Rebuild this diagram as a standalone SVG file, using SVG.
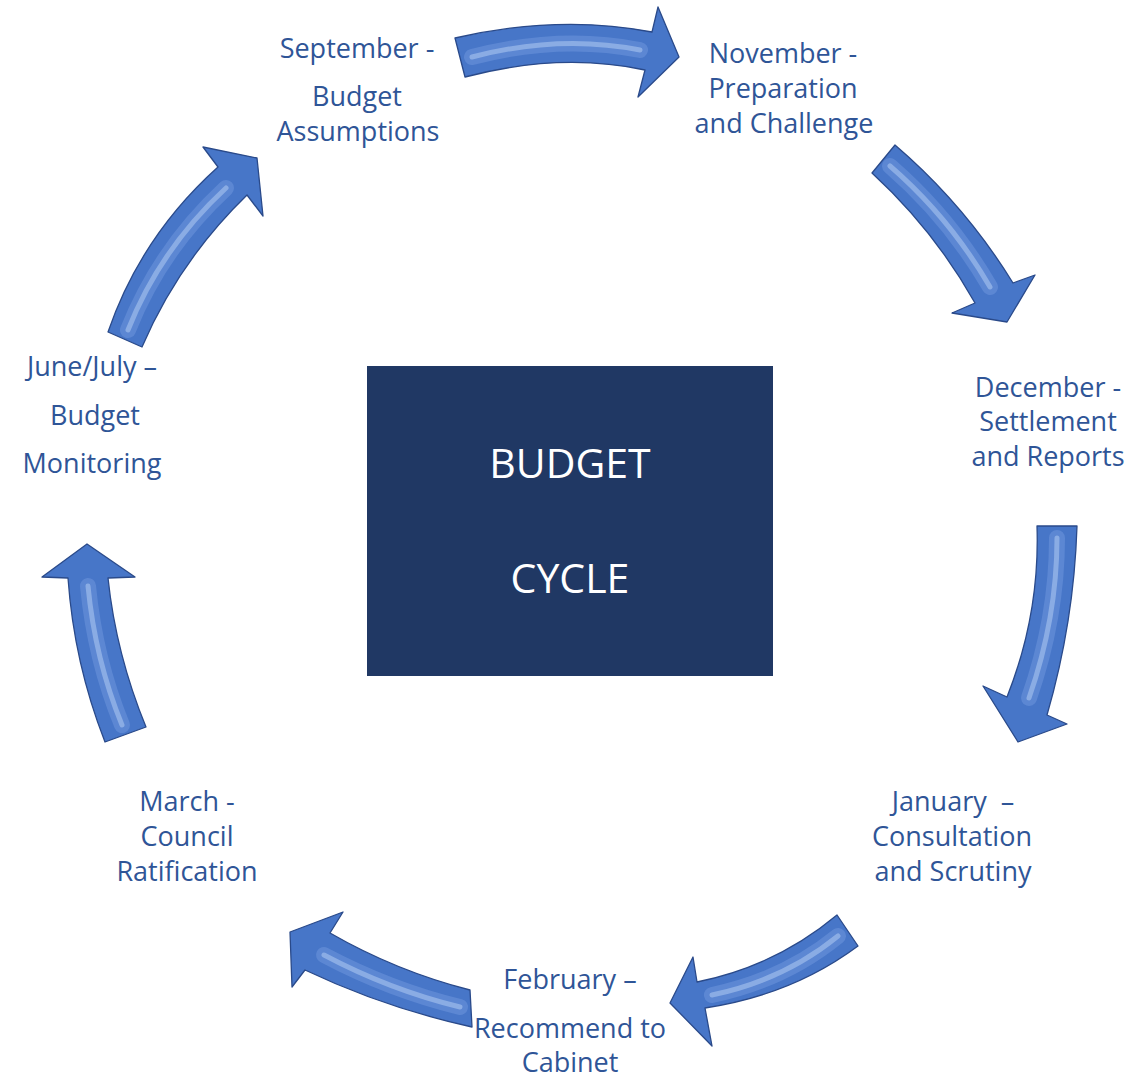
<svg xmlns="http://www.w3.org/2000/svg" width="1133" height="1080" viewBox="0 0 1133 1080">
<style>
.lbl{font-family:"Open Sans","Noto Sans","DejaVu Sans",sans-serif;font-size:27px;fill:#2F5597;text-anchor:middle}
.box{fill:#203864}
.boxt{font-family:"Open Sans","Noto Sans","DejaVu Sans",sans-serif;font-size:41px;fill:#FFFFFF;text-anchor:middle}
.arr{fill:#4776C8;stroke:#2A4A8A;stroke-width:1.3;stroke-linejoin:round}
.hl{fill:none;stroke:#A9C4F0;stroke-width:5;stroke-linecap:round;opacity:0.6}
.hl2{fill:none;stroke:#6E96DC;stroke-width:16;stroke-linecap:round;opacity:0.55}
</style>
<rect width="1133" height="1080" fill="#FFFFFF"/>
<g id="connectors">
  <g id="arrow-sep-nov">
    <path class="arr" d="M455,38 Q560,14 652,32 L658,7 L679,57 L638,97 L645,70 Q560,52 465,77 Z"/>
    <path class="hl2" d="M472,57 Q560,34 640,50"/>
    <path class="hl" d="M472,57 Q560,34 640,50"/>
  </g>
  <g id="arrow-nov-dec">
    <path class="arr" d="M895,145 Q965,205 1013,283 L1035,275 L1007,322 L952,313 L975,303 Q934,230 872,173 Z"/>
    <path class="hl2" d="M890,166 Q950,218 990,287"/>
    <path class="hl" d="M890,166 Q950,218 990,287"/>
  </g>
  <g id="arrow-dec-jan">
    <path class="arr" d="M1037,526 L1077,526 Q1074,622 1047,715 L1067,724 L1018,742 L983,686 L1007,697 Q1040,614 1037,526 Z"/>
    <path class="hl2" d="M1057,538 Q1057,618 1029,698"/>
    <path class="hl" d="M1057,538 Q1057,618 1029,698"/>
  </g>
  <g id="arrow-jan-feb">
    <path class="arr" d="M837,915 L858,946 Q792,995 705,1008 L712,1046 L670,1003 L693,957 L697,982 Q776,966 837,915 Z"/>
    <path class="hl2" d="M838,936 Q784,980 712,995"/>
    <path class="hl" d="M838,936 Q784,980 712,995"/>
  </g>
  <g id="arrow-feb-mar">
    <path class="arr" d="M470,990 L472,1027 Q385,1008 305,970 L292,987 L290,932 L343,912 L330,933 Q396,971 470,990 Z"/>
    <path class="hl2" d="M460,1007 Q390,990 324,955"/>
    <path class="hl" d="M460,1007 Q390,990 324,955"/>
  </g>
  <g id="arrow-mar-jun">
    <path class="arr" d="M105,742 L146,727 Q116,654 108,578 L135,577 L87,544 L42,577 L68,578 Q74,663 105,742 Z"/>
    <path class="hl2" d="M122,725 Q95,659 88,586"/>
    <path class="hl" d="M122,725 Q95,659 88,586"/>
  </g>
  <g id="arrow-jun-sep">
    <path class="arr" d="M108,332 Q141,236 218,167 L203,147 L257,158 L263,216 L247,195 Q179,261 142,347 Z"/>
    <path class="hl2" d="M128,330 Q160,249 226,188"/>
    <path class="hl" d="M128,330 Q160,249 226,188"/>
  </g>
</g>
<g id="center">
  <rect class="box" x="367" y="366" width="406" height="310"/>
  <text class="boxt" x="570" y="478">BUDGET</text>
  <text class="boxt" x="570" y="593">CYCLE</text>
</g>
<g id="september">
  <text class="lbl" x="357" y="58">September -</text>
  <text class="lbl" x="357" y="106">Budget</text>
  <text class="lbl" x="358" y="141">Assumptions</text>
</g>
<g id="november">
  <text class="lbl" x="783" y="63">November -</text>
  <text class="lbl" x="783" y="98">Preparation</text>
  <text class="lbl" x="784" y="133">and Challenge</text>
</g>
<g id="december">
  <text class="lbl" x="1048" y="397">December -</text>
  <text class="lbl" x="1048" y="431">Settlement</text>
  <text class="lbl" x="1048" y="466">and Reports</text>
</g>
<g id="january">
  <text class="lbl" x="953" y="811" xml:space="preserve">January  –</text>
  <text class="lbl" x="952" y="846">Consultation</text>
  <text class="lbl" x="953" y="881">and Scrutiny</text>
</g>
<g id="february">
  <text class="lbl" x="570" y="989">February –</text>
  <text class="lbl" x="570" y="1038">Recommend to</text>
  <text class="lbl" x="570" y="1072">Cabinet</text>
</g>
<g id="march">
  <text class="lbl" x="187" y="811">March -</text>
  <text class="lbl" x="187" y="846">Council</text>
  <text class="lbl" x="187" y="881">Ratification</text>
</g>
<g id="junejuly">
  <text class="lbl" x="92" y="376">June/July –</text>
  <text class="lbl" x="95" y="425">Budget</text>
  <text class="lbl" x="92" y="473">Monitoring</text>
</g>
</svg>
